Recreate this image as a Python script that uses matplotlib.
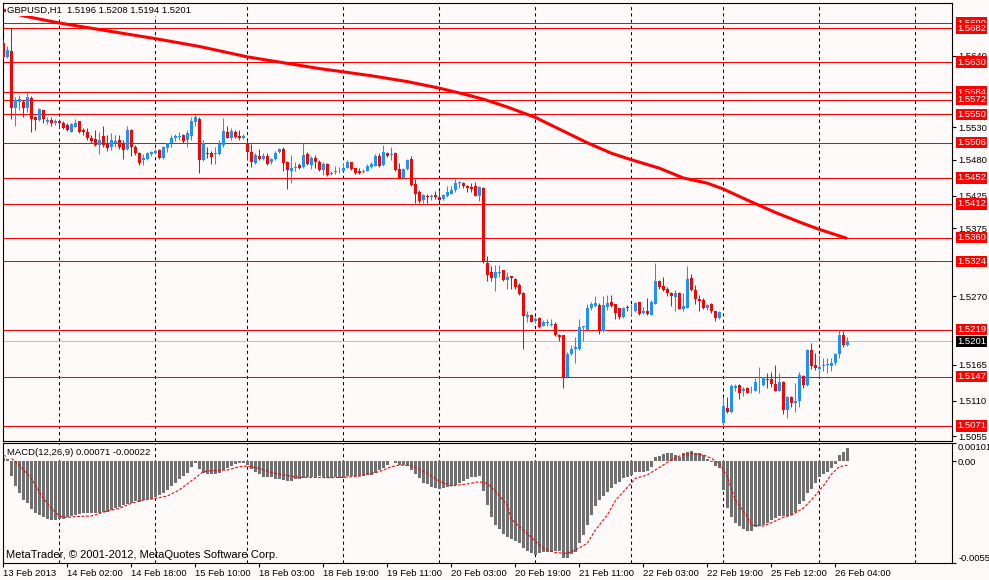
import numpy as np
import matplotlib
matplotlib.use('Agg')
import matplotlib.pyplot as plt

plt.rcParams['font.family'] = ['Liberation Sans', 'DejaVu Sans']

# GBPUSD H1 candles, 13 Feb 2013 10:00 .. 26 Feb 2013 07:00
open_ = [
    1.5660, 1.5638, 1.5647, 1.5559, 1.5568, 1.5568, 1.5559, 1.5575, 1.5545, 1.5541,
    1.5556, 1.5538, 1.5541, 1.5536, 1.5540, 1.5537, 1.5533, 1.5523, 1.5531, 1.5540,
    1.5526, 1.5522, 1.5514, 1.5512, 1.5502, 1.5516, 1.5504, 1.5499, 1.5506, 1.5510,
    1.5504, 1.5496, 1.5526, 1.5500, 1.5491, 1.5479, 1.5481, 1.5489, 1.5491, 1.5495,
    1.5482, 1.5498, 1.5505, 1.5514, 1.5515, 1.5518, 1.5510, 1.5516, 1.5538, 1.5543,
    1.5479, 1.5491, 1.5491, 1.5489, 1.5489, 1.5503, 1.5523, 1.5514, 1.5522, 1.5516,
    1.5514, 1.5506, 1.5492, 1.5475, 1.5486, 1.5481, 1.5486, 1.5476, 1.5481, 1.5492,
    1.5497, 1.5476, 1.5463, 1.5467, 1.5472, 1.5469, 1.5489, 1.5472, 1.5483, 1.5477,
    1.5464, 1.5474, 1.5458, 1.5461, 1.5462, 1.5463, 1.5468, 1.5476, 1.5468, 1.5463,
    1.5461, 1.5463, 1.5469, 1.5471, 1.5486, 1.5472, 1.5491, 1.5488, 1.5491, 1.5466,
    1.5452, 1.5465, 1.5481, 1.5443, 1.5431, 1.5418, 1.5424, 1.5422, 1.5426, 1.5423,
    1.5420, 1.5425, 1.5428, 1.5434, 1.5444, 1.5444, 1.5439, 1.5438, 1.5439, 1.5425,
    1.5437, 1.5321, 1.5307, 1.5298, 1.5306, 1.5310, 1.5296, 1.5301, 1.5297, 1.5288,
    1.5276, 1.5239, 1.5242, 1.5232, 1.5237, 1.5225, 1.5229, 1.5226, 1.5228, 1.5211,
    1.5211, 1.5146, 1.5182, 1.5189, 1.5189, 1.5223, 1.5218, 1.5253, 1.5256, 1.5257,
    1.5217, 1.5254, 1.5262, 1.5258, 1.5252, 1.5239, 1.5253, 1.5250, 1.5247, 1.5261,
    1.5244, 1.5248, 1.5242, 1.5259, 1.5294, 1.5286, 1.5282, 1.5276, 1.5269, 1.5276,
    1.5250, 1.5253, 1.5298, 1.5280, 1.5266, 1.5264, 1.5253, 1.5258, 1.5247, 1.5237,
    1.5076, 1.5098, 1.5092, 1.5130, 1.5134, 1.5124, 1.5129, 1.5124, 1.5125, 1.5138,
    1.5134, 1.5143, 1.5143, 1.5136, 1.5125, 1.5139, 1.5095, 1.5115, 1.5107, 1.5109,
    1.5148, 1.5134, 1.5188, 1.5165, 1.5159, 1.5163, 1.5164, 1.5163, 1.5167, 1.5181,
    1.5211, 1.5196,
]
high_ = [
    1.5665, 1.5654, 1.5682, 1.5577, 1.5579, 1.5572, 1.5585, 1.5578, 1.5547, 1.5559,
    1.5557, 1.5545, 1.5545, 1.5543, 1.5541, 1.5540, 1.5537, 1.5537, 1.5543, 1.5540,
    1.5528, 1.5529, 1.5518, 1.5526, 1.5522, 1.5532, 1.5518, 1.5521, 1.5518, 1.5518,
    1.5510, 1.5532, 1.5527, 1.5503, 1.5492, 1.5489, 1.5492, 1.5494, 1.5496, 1.5497,
    1.5501, 1.5506, 1.5518, 1.5519, 1.5522, 1.5519, 1.5526, 1.5546, 1.5549, 1.5546,
    1.5510, 1.5500, 1.5493, 1.5500, 1.5510, 1.5544, 1.5532, 1.5528, 1.5526, 1.5526,
    1.5520, 1.5510, 1.5504, 1.5490, 1.5497, 1.5490, 1.5490, 1.5483, 1.5494, 1.5498,
    1.5500, 1.5478, 1.5487, 1.5476, 1.5475, 1.5505, 1.5492, 1.5485, 1.5487, 1.5480,
    1.5476, 1.5475, 1.5462, 1.5470, 1.5469, 1.5475, 1.5480, 1.5477, 1.5468, 1.5468,
    1.5465, 1.5474, 1.5476, 1.5489, 1.5490, 1.5503, 1.5492, 1.5500, 1.5492, 1.5475,
    1.5468, 1.5481, 1.5485, 1.5450, 1.5433, 1.5427, 1.5428, 1.5428, 1.5432, 1.5432,
    1.5427, 1.5440, 1.5440, 1.5450, 1.5447, 1.5446, 1.5441, 1.5444, 1.5446, 1.5440,
    1.5438, 1.5332, 1.5316, 1.5318, 1.5318, 1.5311, 1.5308, 1.5302, 1.5298, 1.5290,
    1.5277, 1.5248, 1.5243, 1.5239, 1.5239, 1.5234, 1.5235, 1.5236, 1.5230, 1.5213,
    1.5211, 1.5185, 1.5195, 1.5208, 1.5236, 1.5225, 1.5259, 1.5262, 1.5270, 1.5260,
    1.5270, 1.5272, 1.5272, 1.5259, 1.5253, 1.5254, 1.5257, 1.5259, 1.5261, 1.5262,
    1.5254, 1.5267, 1.5265, 1.5321, 1.5295, 1.5300, 1.5284, 1.5277, 1.5280, 1.5277,
    1.5275, 1.5316, 1.5304, 1.5288, 1.5272, 1.5267, 1.5259, 1.5260, 1.5248, 1.5247,
    1.5115, 1.5115, 1.5135, 1.5136, 1.5135, 1.5131, 1.5131, 1.5132, 1.5144, 1.5162,
    1.5147, 1.5152, 1.5154, 1.5165, 1.5152, 1.5140, 1.5117, 1.5117, 1.5137, 1.5154,
    1.5149, 1.5190, 1.5199, 1.5183, 1.5180, 1.5175, 1.5175, 1.5176, 1.5183, 1.5218,
    1.5217, 1.5208,
]
low_ = [
    1.5636, 1.5636, 1.5542, 1.5532, 1.5556, 1.5546, 1.5554, 1.5522, 1.5526, 1.5540,
    1.5536, 1.5535, 1.5532, 1.5533, 1.5528, 1.5527, 1.5524, 1.5522, 1.5530, 1.5521,
    1.5518, 1.5511, 1.5505, 1.5501, 1.5489, 1.5500, 1.5494, 1.5495, 1.5500, 1.5497,
    1.5481, 1.5495, 1.5485, 1.5487, 1.5472, 1.5472, 1.5480, 1.5485, 1.5489, 1.5481,
    1.5481, 1.5492, 1.5500, 1.5508, 1.5511, 1.5506, 1.5499, 1.5511, 1.5532, 1.5459,
    1.5478, 1.5482, 1.5473, 1.5473, 1.5487, 1.5500, 1.5513, 1.5510, 1.5513, 1.5510,
    1.5512, 1.5480, 1.5469, 1.5474, 1.5479, 1.5479, 1.5472, 1.5474, 1.5480, 1.5491,
    1.5462, 1.5435, 1.5445, 1.5463, 1.5465, 1.5468, 1.5472, 1.5465, 1.5468, 1.5463,
    1.5456, 1.5455, 1.5456, 1.5458, 1.5459, 1.5462, 1.5468, 1.5464, 1.5458, 1.5458,
    1.5459, 1.5462, 1.5468, 1.5470, 1.5469, 1.5470, 1.5484, 1.5480, 1.5462, 1.5450,
    1.5450, 1.5464, 1.5440, 1.5414, 1.5413, 1.5413, 1.5413, 1.5418, 1.5420, 1.5416,
    1.5418, 1.5422, 1.5427, 1.5431, 1.5436, 1.5436, 1.5431, 1.5431, 1.5424, 1.5416,
    1.5322, 1.5293, 1.5293, 1.5279, 1.5300, 1.5294, 1.5282, 1.5282, 1.5282, 1.5272,
    1.5190, 1.5231, 1.5230, 1.5229, 1.5222, 1.5224, 1.5224, 1.5224, 1.5209, 1.5201,
    1.5130, 1.5145, 1.5180, 1.5167, 1.5188, 1.5201, 1.5217, 1.5249, 1.5254, 1.5212,
    1.5216, 1.5249, 1.5254, 1.5236, 1.5235, 1.5237, 1.5247, 1.5242, 1.5246, 1.5242,
    1.5243, 1.5242, 1.5241, 1.5258, 1.5282, 1.5279, 1.5270, 1.5255, 1.5247, 1.5250,
    1.5247, 1.5253, 1.5279, 1.5259, 1.5248, 1.5251, 1.5249, 1.5245, 1.5232, 1.5235,
    1.5071, 1.5091, 1.5091, 1.5125, 1.5112, 1.5117, 1.5121, 1.5122, 1.5124, 1.5122,
    1.5133, 1.5130, 1.5131, 1.5124, 1.5124, 1.5089, 1.5084, 1.5100, 1.5093, 1.5100,
    1.5129, 1.5133, 1.5158, 1.5157, 1.5147, 1.5156, 1.5152, 1.5156, 1.5165, 1.5175,
    1.5193, 1.5194,
]
close_ = [
    1.5638, 1.5649, 1.5560, 1.5571, 1.5573, 1.5559, 1.5577, 1.5542, 1.5541, 1.5558,
    1.5542, 1.5541, 1.5536, 1.5539, 1.5536, 1.5528, 1.5525, 1.5535, 1.5537, 1.5522,
    1.5522, 1.5514, 1.5509, 1.5502, 1.5511, 1.5503, 1.5498, 1.5511, 1.5508, 1.5500,
    1.5495, 1.5526, 1.5499, 1.5491, 1.5475, 1.5483, 1.5491, 1.5492, 1.5493, 1.5482,
    1.5500, 1.5505, 1.5514, 1.5516, 1.5517, 1.5508, 1.5521, 1.5539, 1.5545, 1.5479,
    1.5506, 1.5489, 1.5484, 1.5491, 1.5504, 1.5524, 1.5514, 1.5524, 1.5515, 1.5513,
    1.5517, 1.5492, 1.5476, 1.5487, 1.5481, 1.5485, 1.5474, 1.5481, 1.5490, 1.5497,
    1.5475, 1.5464, 1.5468, 1.5469, 1.5468, 1.5487, 1.5473, 1.5483, 1.5477, 1.5464,
    1.5473, 1.5456, 1.5460, 1.5462, 1.5463, 1.5468, 1.5477, 1.5465, 1.5460, 1.5460,
    1.5463, 1.5471, 1.5474, 1.5485, 1.5471, 1.5492, 1.5485, 1.5489, 1.5464, 1.5452,
    1.5465, 1.5480, 1.5441, 1.5428, 1.5416, 1.5426, 1.5422, 1.5425, 1.5422, 1.5418,
    1.5426, 1.5431, 1.5434, 1.5444, 1.5445, 1.5439, 1.5436, 1.5435, 1.5425, 1.5438,
    1.5323, 1.5303, 1.5298, 1.5307, 1.5308, 1.5296, 1.5300, 1.5298, 1.5285, 1.5273,
    1.5240, 1.5242, 1.5231, 1.5235, 1.5223, 1.5231, 1.5230, 1.5228, 1.5210, 1.5207,
    1.5146, 1.5182, 1.5189, 1.5193, 1.5223, 1.5224, 1.5253, 1.5259, 1.5260, 1.5219,
    1.5257, 1.5260, 1.5255, 1.5245, 1.5239, 1.5253, 1.5252, 1.5251, 1.5260, 1.5243,
    1.5248, 1.5243, 1.5262, 1.5294, 1.5284, 1.5280, 1.5275, 1.5270, 1.5276, 1.5251,
    1.5255, 1.5297, 1.5280, 1.5266, 1.5263, 1.5253, 1.5257, 1.5247, 1.5237, 1.5246,
    1.5102, 1.5092, 1.5132, 1.5132, 1.5122, 1.5128, 1.5122, 1.5125, 1.5138, 1.5139,
    1.5146, 1.5141, 1.5136, 1.5125, 1.5139, 1.5095, 1.5116, 1.5107, 1.5109, 1.5149,
    1.5134, 1.5188, 1.5163, 1.5160, 1.5161, 1.5165, 1.5166, 1.5168, 1.5181, 1.5211,
    1.5195, 1.5201,
]

# moving average
ma_bars = [0, 5, 14, 24, 38, 49, 61, 79, 85, 92, 101, 109, 115, 120, 126, 133, 139,
           146, 152, 157, 164, 170, 176, 180, 186, 193, 200, 204, 211]
ma_vals = [1.5710, 1.5701, 1.5690, 1.5680, 1.5666, 1.5654, 1.5638, 1.5620, 1.5615,
           1.5609, 1.5600, 1.5590, 1.5581, 1.5573, 1.5561, 1.5545, 1.5527, 1.5506,
           1.5490, 1.5480, 1.5467, 1.5452, 1.5444, 1.5435, 1.5418, 1.5399, 1.5382,
           1.5373, 1.5359]

# horizontal levels drawn on the chart
levels = [1.5690, 1.5682, 1.5630, 1.5584, 1.5572, 1.5550, 1.5506, 1.5452, 1.5412,
          1.5360, 1.5324, 1.5219, 1.5147, 1.5071]
last_price = 1.5201
price_ticks = [1.5640, 1.5530, 1.5480, 1.5425, 1.5375, 1.5270, 1.5165, 1.5110, 1.5055]

# MACD(12,26,9) main histogram and signal
macd = [
    0.00016, 0.00012, -0.00081, -0.00135, -0.00175, -0.00212, -0.00230, -0.00261, -0.00285, -0.00294,
    -0.00306, -0.00316, -0.00321, -0.00321, -0.00317, -0.00314, -0.00306, -0.00299, -0.00292, -0.00288,
    -0.00285, -0.00285, -0.00281, -0.00285, -0.00281, -0.00276, -0.00276, -0.00266, -0.00254, -0.00248,
    -0.00241, -0.00234, -0.00226, -0.00217, -0.00221, -0.00212, -0.00208, -0.00205, -0.00194, -0.00185,
    -0.00175, -0.00157, -0.00135, -0.00121, -0.00099, -0.00081, -0.00066, -0.00030, -0.00008, -0.00044,
    -0.00066, -0.00072, -0.00072, -0.00072, -0.00066, -0.00048, -0.00039, -0.00026, -0.00015, -0.00012,
    -0.00008, -0.00021, -0.00044, -0.00057, -0.00070, -0.00084, -0.00088, -0.00088, -0.00099, -0.00099,
    -0.00103, -0.00106, -0.00106, -0.00099, -0.00099, -0.00094, -0.00088, -0.00088, -0.00084, -0.00081,
    -0.00088, -0.00094, -0.00094, -0.00088, -0.00094, -0.00094, -0.00081, -0.00081, -0.00081, -0.00081,
    -0.00081, -0.00077, -0.00075, -0.00063, -0.00048, -0.00039, -0.00021, 0.00003, -0.00012, -0.00021,
    -0.00021, -0.00026, -0.00048, -0.00070, -0.00094, -0.00121, -0.00126, -0.00139, -0.00148, -0.00154,
    -0.00148, -0.00139, -0.00135, -0.00130, -0.00117, -0.00106, -0.00099, -0.00088, -0.00084, -0.00081,
    -0.00161, -0.00239, -0.00303, -0.00348, -0.00372, -0.00397, -0.00412, -0.00427, -0.00436, -0.00445,
    -0.00476, -0.00490, -0.00503, -0.00512, -0.00503, -0.00494, -0.00494, -0.00494, -0.00490, -0.00490,
    -0.00527, -0.00527, -0.00509, -0.00498, -0.00448, -0.00403, -0.00348, -0.00294, -0.00245, -0.00212,
    -0.00190, -0.00166, -0.00148, -0.00126, -0.00112, -0.00094, -0.00088, -0.00075, -0.00061, -0.00061,
    -0.00061, -0.00052, -0.00033, 0.00021, 0.00030, 0.00039, 0.00043, 0.00047, 0.00034, 0.00025,
    0.00043, 0.00052, 0.00056, 0.00047, 0.00043, 0.00034, 0.00010, -0.00003, -0.00026, -0.00039,
    -0.00157, -0.00257, -0.00306, -0.00336, -0.00354, -0.00372, -0.00379, -0.00379, -0.00361, -0.00354,
    -0.00348, -0.00339, -0.00321, -0.00312, -0.00299, -0.00299, -0.00299, -0.00294, -0.00276, -0.00236,
    -0.00216, -0.00172, -0.00154, -0.00117, -0.00088, -0.00072, -0.00057, -0.00039, -0.00015, 0.00034,
    0.00052, 0.00071,
]
sig_bars = [0, 2, 4, 7, 10, 12, 14, 16, 18, 22, 26, 29, 32, 35, 38, 41, 44, 47, 50, 52,
            56, 59, 61, 64, 67, 71, 74, 77, 81, 85, 89, 92, 94, 97, 99, 102, 106, 109, 112, 116,
            119, 121, 123, 126, 127, 130, 133, 135, 138, 141, 143, 146, 148, 151, 153, 156, 158, 161, 163, 167,
            169, 172, 175, 177, 179, 181, 183, 186, 187, 190, 192, 195, 197, 200, 202, 205, 207, 209, 211]
sig_vals = [0.00032, 0.00016, -0.00021, -0.00094, -0.00203, -0.00257, -0.00299, -0.00308, -0.00302, -0.00299,
            -0.00272, -0.00257, -0.00230, -0.00212, -0.00203, -0.00190, -0.00157, -0.00108, -0.00057, -0.00052,
            -0.00048, -0.00030, -0.00026, -0.00039, -0.00061, -0.00079, -0.00088, -0.00088, -0.00090, -0.00088,
            -0.00081, -0.00066, -0.00057, -0.00030, -0.00021, -0.00024, -0.00066, -0.00108, -0.00135, -0.00124,
            -0.00112, -0.00121, -0.00163, -0.00239, -0.00316, -0.00376, -0.00436, -0.00476, -0.00499, -0.00503,
            -0.00485, -0.00448, -0.00376, -0.00294, -0.00216, -0.00143, -0.00094, -0.00075, -0.00048, 0.00007,
            0.00028, 0.00043, 0.00034, 0.00016, -0.00012, -0.00084, -0.00212, -0.00303, -0.00348, -0.00354,
            -0.00336, -0.00306, -0.00294, -0.00257, -0.00212, -0.00135, -0.00072, -0.00030, -0.00022]

# time axis: a label every 16 bars, day separators as grid lines
time_ticks = [0, 16, 32, 48, 64, 80, 96, 112, 128, 144, 160, 176, 192, 208]
time_labels = ['13 Feb 2013', '14 Feb 02:00', '14 Feb 18:00', '15 Feb 10:00', '18 Feb 03:00',
               '18 Feb 19:00', '19 Feb 11:00', '20 Feb 03:00', '20 Feb 19:00', '21 Feb 11:00',
               '22 Feb 03:00', '22 Feb 19:00', '25 Feb 12:00', '26 Feb 04:00']
grid_bars = [14, 38, 61, 85, 109, 133, 157, 180, 204, 228]

BG = '#FFFAFA'
BULL = '#1E90FF'
BEAR = '#FF0000'
FS = 6.8
W, H = 989, 580

fig = plt.figure(figsize=(W / 100, H / 100), dpi=100, facecolor=BG)


def px_axes(left, top, right, bottom):
    return fig.add_axes([left / W, 1 - bottom / H, (right - left) / W, (bottom - top) / H])


ax = px_axes(2.7, 2.7, 951.7, 440.7)
mx = px_axes(2.7, 442.7, 951.7, 562.7)

for a in (ax, mx):
    a.set_facecolor(BG)
    a.set_xlim(-0.15, 237.1)
    for s in a.spines.values():
        s.set_linewidth(0.8)
        s.set_color('black')
    for g in grid_bars:
        a.axvline(g, color='black', lw=0.75, ls=(0, (3, 3)), zorder=0.5)

# ---- main price panel
x = np.arange(len(close_))
o = np.array(open_)
c = np.array(close_)
hi = np.array(high_)
lo = np.array(low_)
cols = np.where(c > o, BULL, BEAR)

for lv in levels:
    ax.axhline(lv, color='red', lw=0.75, zorder=1)
ax.axhline(last_price, color='#C0C0C0', lw=0.75, zorder=1)

ax.plot(ma_bars, ma_vals, color='red', lw=2.2, solid_capstyle='butt', zorder=2)

ax.vlines(x, lo, hi, colors=cols, lw=0.75, zorder=3)
body_low = np.minimum(o, c)
body_h = np.maximum(np.abs(c - o), 0.00012)
ax.bar(x, body_h, width=0.75, bottom=body_low, color=cols, lw=0, zorder=4)

ax.set_ylim(1.50484, 1.57212)
ax.set_xticks([])
ax.yaxis.tick_right()
ax.set_yticks(price_ticks)
ax.set_yticklabels([f'{t:.4f}' for t in price_ticks])
ax.tick_params(axis='y', direction='out', length=3, width=0.8, pad=1.6, labelsize=FS)


def price_tag(level, fc):
    ax.annotate(f'{level:.4f}', xy=(1.0, level), xycoords=('axes fraction', 'data'),
                xytext=(3.8, 0), textcoords='offset points', ha='left', va='center',
                color='white', fontsize=FS, annotation_clip=False,
                bbox=dict(boxstyle='square,pad=0.12', fc=fc, ec='none'))


for lv in levels:
    price_tag(lv, 'red')
price_tag(last_price, 'black')

fig.text(7 / W, 1 - 10.3 / H, 'GBPUSD,H1  1.5196 1.5208 1.5194 1.5201', fontsize=FS,
         ha='left', va='center', color='black', zorder=10,
         bbox=dict(boxstyle='square,pad=0.1', fc=BG, ec='none'))

# ---- MACD panel
mx.bar(x, macd, width=0.75, color='#707070', lw=0, zorder=2)
mx.plot(sig_bars, sig_vals, color='red', lw=0.8, ls=(0, (2.5, 1.5)), zorder=3)
mx.set_ylim(-0.00554, 0.00101)
mx.yaxis.tick_right()
mx.set_yticks([0.00101, 0.0, -0.00554])
mx.set_yticklabels(['0.00101', '0.00', '-0.00554'])
mx.tick_params(axis='y', direction='out', length=3, width=0.8, pad=1.6, labelsize=FS)
ylabs = mx.get_yticklabels()
ylabs[0].set_va('top')
ylabs[2].set_va('bottom')

mx.set_xticks(time_ticks)
mx.set_xticklabels(time_labels)
mx.tick_params(axis='x', direction='out', length=3, width=0.8, pad=1.2, labelsize=FS)
for lbl in mx.get_xticklabels():
    lbl.set_ha('left')

fig.text(7 / W, 1 - 452.5 / H, 'MACD(12,26,9) 0.00071 -0.00022', fontsize=FS,
         ha='left', va='center', color='black', zorder=10,
         bbox=dict(boxstyle='square,pad=0.1', fc=BG, ec='none'))
fig.text(6 / W, 1 - 555 / H, 'MetaTrader, \u00a9 2001-2012, MetaQuotes Software Corp.',
         fontsize=8, ha='left', va='center', color='black')

fig.savefig('out.png', dpi=100, facecolor=BG)
